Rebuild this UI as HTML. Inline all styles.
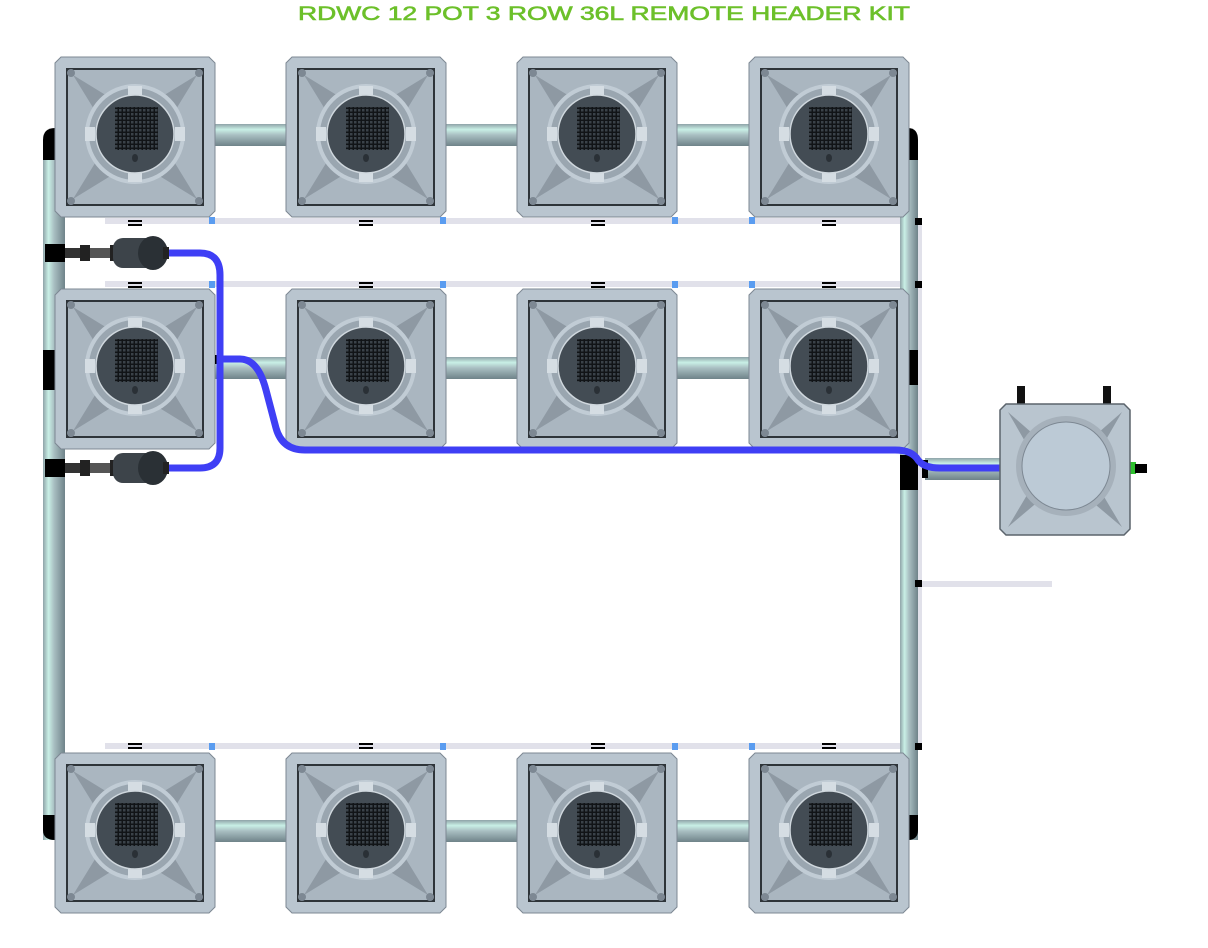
<!DOCTYPE html>
<html><head><meta charset="utf-8"><style>
html,body{margin:0;padding:0;background:#fff;width:1208px;height:948px;overflow:hidden}
</style></head><body>
<svg width="1208" height="948" viewBox="0 0 1208 948" xmlns="http://www.w3.org/2000/svg">
<defs>
<linearGradient id="ph" x1="0" y1="0" x2="0" y2="1">
<stop offset="0" stop-color="#8fa3a8"/><stop offset="0.25" stop-color="#c9f0e6"/><stop offset="0.5" stop-color="#a9bfc2"/><stop offset="1" stop-color="#6f8389"/></linearGradient>
<linearGradient id="pv" x1="0" y1="0" x2="1" y2="0">
<stop offset="0" stop-color="#8fa3a8"/><stop offset="0.25" stop-color="#c9f0e6"/><stop offset="0.5" stop-color="#a9bfc2"/><stop offset="1" stop-color="#6f8389"/></linearGradient>
<pattern id="grid" width="4" height="4" patternUnits="userSpaceOnUse"><rect width="4" height="4" fill="#111417"/><rect width="2.5" height="2.5" fill="#3a4249"/></pattern>
<g id="pot">
<path d="M6 0 H154 L160 6 V154 L154 160 H6 L0 154 V6 Z" fill="#b9c5cf" stroke="#7d8893" stroke-width="1"/>
<rect x="12" y="12" width="136" height="136" fill="#aab6c0" stroke="#2e3439" stroke-width="2"/>
<path d="M18 18 L62 45 L45 62 Z M142 18 L98 45 L115 62 Z M18 142 L62 115 L45 98 Z M142 142 L98 115 L115 98 Z" fill="#8e99a3"/>
<circle cx="80" cy="77" r="50" fill="#c1ccd5"/>
<circle cx="80" cy="77" r="46" fill="#9aa6b0"/>
<rect x="73" y="29" width="14" height="10" fill="#d5dde3"/><rect x="73" y="115" width="14" height="10" fill="#d5dde3"/>
<rect x="30" y="70" width="10" height="14" fill="#d5dde3"/><rect x="120" y="70" width="10" height="14" fill="#d5dde3"/>
<circle cx="80" cy="77" r="39" fill="#434c54" stroke="#d0d8de" stroke-width="1.5"/>
<rect x="60" y="50" width="43" height="43" fill="url(#grid)"/>
<ellipse cx="80" cy="101" rx="3" ry="4" fill="#2a3036"/>
<circle cx="16" cy="16" r="4" fill="#7d8893"/><circle cx="144" cy="16" r="4" fill="#7d8893"/><circle cx="16" cy="144" r="4" fill="#7d8893"/><circle cx="144" cy="144" r="4" fill="#7d8893"/>
</g>
<g id="pump">
<rect x="0" y="-9" width="20" height="18" fill="#000"/>
<rect x="20" y="-5" width="15" height="10" fill="#333"/>
<rect x="35" y="-8" width="10" height="16" fill="#222"/>
<rect x="45" y="-5" width="20" height="10" fill="#555"/>
<rect x="65" y="-8" width="6" height="16" fill="#222"/>
<rect x="68" y="-15" width="44" height="30" rx="10" fill="#3d444a"/>
<ellipse cx="108" cy="0" rx="15" ry="17" fill="#2a3035"/>
<rect x="118" y="-6" width="6" height="12" fill="#222"/>
</g>
</defs>

<text x="604" y="20" text-anchor="middle" font-family="Liberation Sans, sans-serif" font-size="19" fill="#6cc02a" stroke="#6cc02a" stroke-width="0.6" textLength="612" lengthAdjust="spacingAndGlyphs">RDWC 12 POT 3 ROW 36L REMOTE HEADER KIT</text>

<g fill="#e1e1ea">
<rect x="105" y="218" width="815" height="6"/>
<rect x="105" y="281" width="815" height="6"/>
<rect x="105" y="743" width="815" height="6"/>
<rect x="916" y="218" width="6" height="530"/>
<rect x="920" y="581" width="132" height="6"/>
</g>

<rect x="43" y="140" width="22" height="700" fill="url(#pv)"/>
<rect x="900" y="140" width="18" height="700" fill="url(#pv)"/>
<path d="M43 160 V140 Q43 128 55 128 V160 Z" fill="#000"/>
<path d="M43 815 V830 Q43 840 55 840 V815 Z" fill="#000"/>
<path d="M908 160 V128 Q918 128 918 140 V160 Z" fill="#000"/>
<path d="M908 815 V840 Q918 840 918 830 V815 Z" fill="#000"/>
<rect x="43" y="350" width="12" height="40" fill="#000"/>
<rect x="908" y="350" width="10" height="35" fill="#000"/>
<rect x="900" y="455" width="18" height="35" fill="#000"/>

<g fill="url(#ph)">
<rect x="215" y="124" width="75" height="22"/><rect x="446" y="124" width="75" height="22"/><rect x="677" y="124" width="75" height="22"/>
<rect x="215" y="357" width="75" height="22"/><rect x="446" y="357" width="75" height="22"/><rect x="677" y="357" width="75" height="22"/>
<rect x="215" y="820" width="75" height="22"/><rect x="446" y="820" width="75" height="22"/><rect x="677" y="820" width="75" height="22"/>
<rect x="925" y="458" width="78" height="22"/>
</g>
<rect x="922" y="460" width="6" height="18" fill="#000"/>

<use href="#pot" x="55" y="57"/><use href="#pot" x="286" y="57"/><use href="#pot" x="517" y="57"/><use href="#pot" x="749" y="57"/>
<use href="#pot" x="55" y="289"/><use href="#pot" x="286" y="289"/><use href="#pot" x="517" y="289"/><use href="#pot" x="749" y="289"/>
<use href="#pot" x="55" y="753"/><use href="#pot" x="286" y="753"/><use href="#pot" x="517" y="753"/><use href="#pot" x="749" y="753"/>

<g fill="#000">
<rect x="128" y="220" width="14" height="2"/><rect x="128" y="224" width="14" height="2"/>
<rect x="359" y="220" width="14" height="2"/><rect x="359" y="224" width="14" height="2"/>
<rect x="591" y="220" width="14" height="2"/><rect x="591" y="224" width="14" height="2"/>
<rect x="822" y="220" width="14" height="2"/><rect x="822" y="224" width="14" height="2"/>
<rect x="128" y="282" width="14" height="2"/><rect x="128" y="286" width="14" height="2"/>
<rect x="359" y="282" width="14" height="2"/><rect x="359" y="286" width="14" height="2"/>
<rect x="591" y="282" width="14" height="2"/><rect x="591" y="286" width="14" height="2"/>
<rect x="822" y="282" width="14" height="2"/><rect x="822" y="286" width="14" height="2"/>
<rect x="128" y="743" width="14" height="2"/><rect x="128" y="747" width="14" height="2"/>
<rect x="359" y="743" width="14" height="2"/><rect x="359" y="747" width="14" height="2"/>
<rect x="591" y="743" width="14" height="2"/><rect x="591" y="747" width="14" height="2"/>
<rect x="822" y="743" width="14" height="2"/><rect x="822" y="747" width="14" height="2"/>
<rect x="915" y="218" width="7" height="7"/><rect x="915" y="281" width="7" height="7"/><rect x="915" y="743" width="7" height="7"/><rect x="915" y="580" width="7" height="7"/>
<rect x="215" y="355" width="8" height="9"/>
</g>
<g fill="#5a9cf0">
<rect x="209" y="217" width="6" height="7"/><rect x="440" y="217" width="6" height="7"/><rect x="672" y="217" width="6" height="7"/><rect x="749" y="217" width="6" height="7"/>
<rect x="209" y="281" width="6" height="7"/><rect x="440" y="281" width="6" height="7"/><rect x="672" y="281" width="6" height="7"/><rect x="749" y="281" width="6" height="7"/>
<rect x="209" y="743" width="6" height="7"/><rect x="440" y="743" width="6" height="7"/><rect x="672" y="743" width="6" height="7"/><rect x="749" y="743" width="6" height="7"/>
</g>

<g fill="none" stroke="#3f3ff5" stroke-width="7">
<path d="M165 253 H200 Q220 253 220 275 V448 Q220 468 200 468 H165"/>
<path d="M220 359 H240 Q258 359 266 390 L276 428 Q282 450 305 450 H895 Q912 450 918 460 Q924 468 940 468 H1000"/>
</g>

<use href="#pump" x="45" y="253"/>
<use href="#pump" x="45" y="468"/>

<rect x="1017" y="386" width="8" height="18" fill="#111"/>
<rect x="1103" y="386" width="8" height="18" fill="#111"/>
<rect x="1130" y="462" width="6" height="12" fill="#2fc02f"/>
<rect x="1135" y="464" width="12" height="9" fill="#000"/>
<path d="M1006 404 H1124 L1130 410 V529 L1124 535 H1006 L1000 529 V410 Z" fill="#b9c5cf" stroke="#5b646c" stroke-width="1.5"/>
<path d="M1008 412 L1040 440 L1030 450 Z M1122 412 L1090 440 L1100 450 Z M1008 527 L1040 500 L1030 490 Z M1122 527 L1090 500 L1100 490 Z" fill="#8e99a3"/>
<circle cx="1066" cy="466" r="50" fill="#a6b1bb"/>
<circle cx="1066" cy="466" r="44" fill="#bccad6" stroke="#7d8893" stroke-width="1"/>
</svg>
</body></html>
